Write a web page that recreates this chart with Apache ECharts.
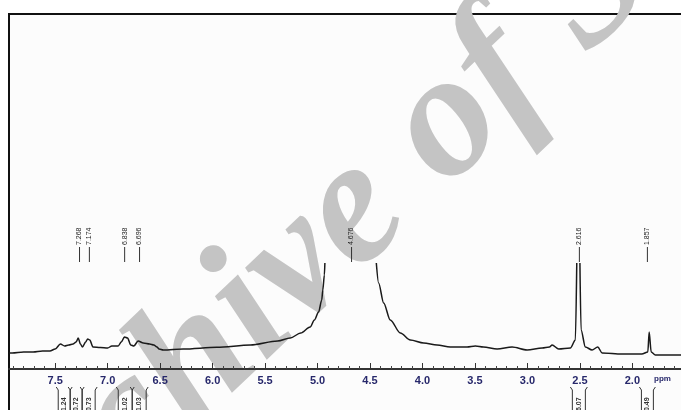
<!DOCTYPE html>
<html>
<head>
<meta charset="utf-8">
<script src="https://cdn.jsdelivr.net/npm/echarts@6/dist/echarts.min.js"></script>
<style>
  html, body { margin: 0; padding: 0; background: #fff; }
  #chart { width: 681px; height: 410px; }
</style>
</head>
<body>
<div id="chart"></div>
<script>
// chemical shift (ppm) and intensity, null = clipped / cut
const ppmValues = [7.94, 7.91, 7.80, 7.71, 7.62, 7.55, 7.50, 7.45, 7.41, 7.37, 7.33, 7.30, 7.28, 7.26, 7.24, 7.21, 7.19, 7.17, 7.14, 7.07,
  7.00, 6.96, 6.90, 6.87, 6.84, 6.81, 6.78, 6.75, 6.71, 6.66, 6.60, 6.56, 6.53, 6.51, 6.47, 6.28, 5.96, 5.64, 5.38, 5.26,
  5.16, 5.07, 5.03, 4.99, 4.96, 4.95, 4.935, 4.93, 4.68, 4.44, 4.418, 4.37, 4.307, 4.211, 4.116, 3.989, 3.861, 3.735, 3.575, 3.496,
  3.42, 3.289, 3.146, 3.003, 2.86, 2.79, 2.765, 2.702, 2.591, 2.543, 2.53, 2.515, 2.5, 2.489, 2.448, 2.384, 2.33, 2.288, 2.10, 1.91,
  1.853, 1.84, 1.821, 1.781, 1.606, 1.27];
const intensity = [16, 16, 17, 17, 18, 18, 20, 25, 23, 24, 25, 27, 31, 25, 22, 27, 30, 29, 22, 21.5,
  21, 23, 23, 27, 32, 31, 24, 23, 28, 26, 25, 24, 22, 20, 19, 20, 21.7, 24, 28, 31,
  36, 42, 49, 57, 69, 79, 94, 106, null, 106, 86, 66, 49, 36, 29, 26, 24, 22, 22, 23,
  22, 20, 22, 19, 21, 22, 24, 20, 21, 29, 106, null, 106, 39, 22, 19, 22, 16, 15, 15,
  17, 37, 17, 14, 14, 14];

// peak picking marks
const peakPositions = [7.268, 7.174, 6.838, 6.696, 4.676, 2.505, 1.857];
const peakLabels = ['7.268', '7.174', '6.838', '6.696', '4.676', '2.616', '1.857'];

// integrals
const integralFrom = [7.471, 7.357, 7.243, 6.899, 6.766, 2.572, 1.914];
const integralTo = [7.357, 7.243, 7.119, 6.766, 6.633, 2.448, 1.800];
const integralLabels = ['1.24', '0.72', '0.73', '1.02', '1.03', '6.07', '0.49'];

// axis
const tickLabels = [7.5, 7.0, 6.5, 6.0, 5.5, 5.0, 4.5, 4.0, 3.5, 3.0, 2.5, 2.0];
const unitPos = 1.713;
const xMin = 1.27, xMax = 7.94;

const minorTicks = [];
for (let k = 13; k <= 79; k++) minorTicks.push(k / 10);

const chart = echarts.init(document.getElementById('chart'));

const spectrum = ppmValues.map((p, i) => [p, intensity[i] === null ? '-' : intensity[i]]);

const smallFont = '"Liberation Sans Narrow", "Liberation Sans", Arial, sans-serif';

chart.setOption({
  animation: false,
  backgroundColor: '#fff',
  grid: {
    left: 9, top: 14, width: 700, height: 406,
    outerBoundsMode: 'none', containLabel: false,
    show: true, borderColor: '#111', borderWidth: 2, backgroundColor: '#fcfcfc'
  },
  xAxis: [{
    type: 'value', inverse: true, min: xMin, max: xMax, z: 5, offset: -51,
    splitLine: { show: false },
    axisLine: { onZero: false, lineStyle: { color: '#333', width: 2 } },
    axisTick: { inside: true, length: 3, customValues: minorTicks, lineStyle: { color: '#444', width: 1 } },
    axisLabel: {
      customValues: tickLabels.concat([unitPos]),
      margin: 6,
      formatter: v => v === unitPos ? '{u|ppm}' : v.toFixed(1),
      color: '#27286b', fontWeight: 'bold', fontSize: 11,
      fontFamily: '"Liberation Sans", Arial, sans-serif',
      rich: { u: { fontSize: 8, fontWeight: 'bold', color: '#27286b', fontFamily: '"Liberation Sans", Arial, sans-serif' } }
    }
  }, {
    type: 'value', inverse: true, min: xMin, max: xMax, position: 'bottom', z: 5, offset: -51,
    splitLine: { show: false },
    axisLine: { show: false, onZero: false },
    axisTick: { inside: true, length: 6, customValues: tickLabels, lineStyle: { color: '#333', width: 1 } },
    axisLabel: { show: false }
  }],
  yAxis: { type: 'value', show: false, min: -51, max: 355, splitLine: { show: false } },
  graphic: [{
    type: 'text', x: 368, y: 200, rotation: 0.76, z: 1,
    style: {
      text: 'Archive of SID', font: 'italic bold 178px "Liberation Serif", serif',
      fill: '#c4c4c4', align: 'center', verticalAlign: 'middle'
    }
  }],
  series: [{
    type: 'line', data: spectrum, showSymbol: false, smooth: 0.3, smoothMonotone: 'x',
    lineStyle: { color: '#1a1a1a', width: 1.5 }, z: 3
  }, {
    type: 'custom', z: 4,
    data: peakPositions.map((p, i) => [p, i]),
    renderItem: (params, api) => {
      const i = api.value(1);
      const top = api.coord([api.value(0), 122]);
      const bot = api.coord([api.value(0), 107]);
      return {
        type: 'group', children: [
          { type: 'line', shape: { x1: bot[0], y1: bot[1], x2: top[0], y2: top[1] }, style: { stroke: '#333', lineWidth: 1 } },
          { type: 'text', x: top[0], y: top[1] - 2, rotation: Math.PI / 2,
            style: { text: peakLabels[i], fill: '#222', font: '7px ' + smallFont, align: 'left', verticalAlign: 'middle' } }
        ]
      };
    }
  }, {
    type: 'custom', z: 4, clip: false,
    data: integralFrom.map((p, i) => [p, integralTo[i], i]),
    renderItem: (params, api) => {
      const i = api.value(2);
      const a = api.coord([api.value(0), -22]);
      const b = api.coord([api.value(1), -22]);
      const bottom = api.coord([api.value(0), -45])[1];
      const mid = (a[0] + b[0]) / 2;
      return {
        type: 'group', children: [
          { type: 'polyline', shape: { points: [[a[0] - 2, a[1] - 4], [a[0], a[1] - 1], [a[0], bottom]] }, style: { stroke: '#333', lineWidth: 1, fill: null } },
          { type: 'polyline', shape: { points: [[b[0] + 2, b[1] - 4], [b[0], b[1] - 1], [b[0], bottom]] }, style: { stroke: '#333', lineWidth: 1, fill: null } },
          { type: 'text', x: mid, y: bottom - 3, rotation: Math.PI / 2,
            style: { text: integralLabels[i], fill: '#333', font: 'bold 7px ' + smallFont, align: 'left', verticalAlign: 'middle' } }
        ]
      };
    }
  }]
});
</script>
</body>
</html>
